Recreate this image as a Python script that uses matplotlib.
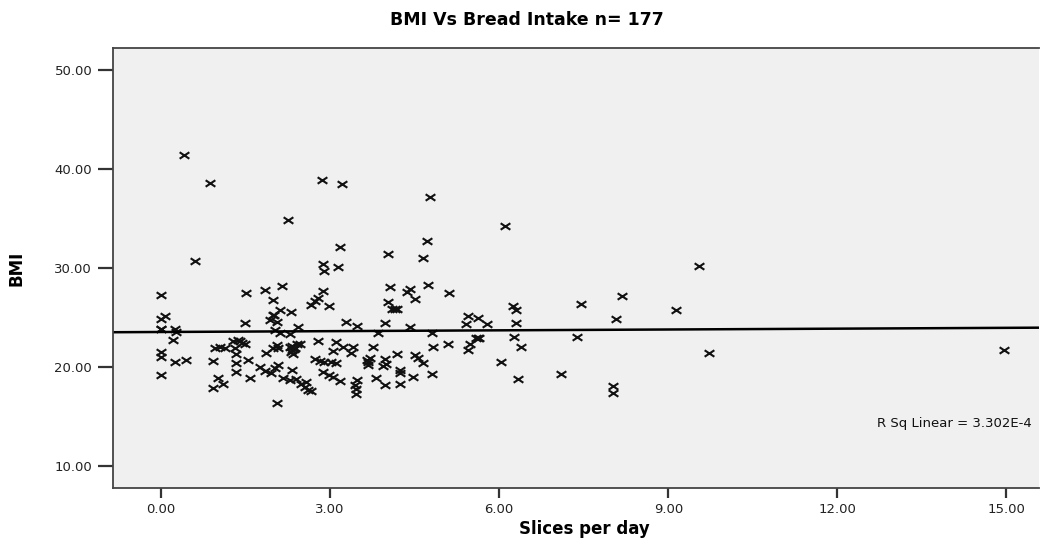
import matplotlib.pyplot as plt
from matplotlib.path import Path
from matplotlib.ticker import FormatStrFormatter

# Slices of bread per day vs BMI
slices = [
    0.40, 0.87, 2.85, 3.21, 2.26, 4.78, 6.10, 3.17, 4.72,
    4.03, 4.64, 2.88, 2.90, 3.14, 4.06, 4.41, 4.37, 4.74, 4.50, 5.11, 4.03,
    4.09, 4.18, 2.87, 2.99, 5.45, 5.62, 5.42, 5.78, 3.28, 3.48, 3.97, 4.42,
    0.60, 0.00, 0.07, 0.00, 0.00, 0.25, 1.50, 1.84, 2.14, 1.99, 1.49, 2.11,
    1.99, 1.93, 2.05, 2.30, 2.67, 2.73, 2.78, 2.43, 2.02,
    0.26, 0.22, 2.11, 2.29, 0.00, 0.00, 0.25, 0.45, 0.00, 0.93, 0.96, 1.05,
    1.13, 1.28, 1.37, 1.43, 1.49, 1.31, 1.34, 1.34, 1.54, 1.34, 1.58, 1.02,
    1.10, 0.93, 1.87, 1.99, 2.05, 2.08, 2.29, 2.32, 2.38, 2.41, 2.35, 2.30,
    2.46, 2.79, 2.73, 2.82, 1.75, 1.84, 1.96, 2.02, 2.08, 2.32, 2.17, 2.29,
    2.40, 2.49, 2.58, 2.55, 2.61, 2.66, 2.05, 2.88,
    3.85, 4.80, 5.59, 5.65, 5.48, 5.45, 5.09, 4.82, 6.04, 3.11, 3.23, 3.41,
    3.05, 3.38, 3.76, 2.90, 3.02, 3.11, 2.99, 3.05, 3.17, 3.65, 3.70, 3.67,
    3.97, 3.94, 4.00, 4.18, 4.50, 4.56, 4.65, 4.24, 4.24, 3.81, 3.97, 4.24,
    4.48, 4.80, 3.47, 3.44, 3.46, 3.46,
    6.25, 6.30, 6.30, 6.27, 6.39, 6.33, 7.10, 7.46, 7.38, 8.02, 8.02, 8.08,
    8.18, 9.14, 9.55, 9.73, 14.96,
    1.40, 2.36, 2.33, 0.00, 4.16, 5.62, 2.00, 3.68,
]
bmi = [
    41.4, 38.55, 38.9, 38.5, 34.85, 37.1, 34.2, 32.1, 32.75,
    31.4, 31.0, 30.4, 29.7, 30.1, 28.1, 27.9, 27.6, 28.3, 26.8, 27.4, 26.5,
    25.8, 25.8, 27.7, 26.15, 25.1, 24.9, 24.3, 24.3, 24.5, 24.15, 24.4, 24.05,
    30.7, 27.2, 25.1, 24.8, 23.8, 23.8, 27.4, 27.8, 28.2, 26.75, 24.4, 25.7,
    25.2, 24.7, 24.5, 25.5, 26.25, 26.6, 26.9, 24.05, 23.7,
    23.5, 22.7, 23.4, 23.3, 21.5, 21.0, 20.5, 20.7, 19.2, 20.6, 21.9, 22.0,
    21.9, 22.6, 22.7, 22.4, 22.3, 21.9, 21.3, 20.35, 20.7, 19.5, 18.9, 18.9,
    18.3, 17.9, 21.4, 21.9, 22.2, 21.9, 22.0, 21.7, 21.9, 22.3, 21.3, 21.45,
    22.3, 22.6, 20.75, 20.6, 20.0, 19.6, 19.35, 19.85, 20.2, 19.7, 18.85, 18.7,
    18.8, 18.3, 18.5, 18.0, 17.65, 17.5, 16.3, 19.5,
    23.4, 23.4, 22.95, 22.95, 22.3, 21.7, 22.3, 22.0, 20.5, 22.5, 22.0, 22.0,
    21.6, 21.4, 22.0, 20.5, 20.45, 20.35, 19.2, 19.0, 18.6, 20.7, 20.85, 20.2,
    20.8, 20.1, 20.25, 21.25, 21.2, 20.9, 20.35, 19.7, 19.35, 18.9, 18.2, 18.3,
    19.0, 19.25, 18.65, 18.2, 17.75, 17.2,
    26.1, 25.75, 24.4, 23.0, 22.0, 18.75, 19.3, 26.35, 23.05, 18.1, 17.3, 24.85,
    27.1, 25.7, 30.2, 21.4, 21.7,
    22.6, 21.8, 22.1, 23.8, 25.8, 22.95, 25.2, 20.5,
]

# fitted line
fit_intercept = 23.51
fit_slope = 0.028
r_sq_text = "R Sq Linear = 3.302E-4"

xticks = [0, 3, 6, 9, 12, 15]
yticks = [10, 20, 30, 40, 50]

plt.rcParams['font.family'] = ['DejaVu Sans']

# the SPSS export is stretched sideways, so the crosses are wider than tall
wide_x = Path([(-1.5, -1), (1.5, 1), (-1.5, 1), (1.5, -1)],
              [Path.MOVETO, Path.LINETO, Path.MOVETO, Path.LINETO])

fig = plt.figure(figsize=(10.4, 5.39), dpi=100)
fig.patch.set_facecolor("white")
ax = fig.add_axes([0.1087, 0.0946, 0.8905, 0.8164])
ax.set_facecolor("#f0f0f0")

ax.plot(slices, bmi, linestyle="none", marker=wide_x, markersize=7,
        markeredgewidth=1.5, color="#111111")

x0, x1 = -0.85, 15.58
ax.plot([x0, x1], [fit_intercept + fit_slope * x0, fit_intercept + fit_slope * x1],
        color="black", lw=1.8)

ax.text(15.44, 14.3, r_sq_text, ha="right", va="center", fontsize=9.5,
        color="#111111")

ax.set_xlim(x0, x1)
ax.set_ylim(7.75, 52.2)
ax.set_xticks(xticks)
ax.set_yticks(yticks)
ax.xaxis.set_major_formatter(FormatStrFormatter("%.2f"))
ax.yaxis.set_major_formatter(FormatStrFormatter("%.2f"))
ax.tick_params(direction="out", width=1.6, color="#333333",
               labelsize=9.5, labelcolor="#222222")
ax.tick_params(axis="y", length=11, pad=4)
ax.tick_params(axis="x", length=7.5, pad=3)

for side in ["left", "bottom", "top"]:
    ax.spines[side].set_color("#444444")
    ax.spines[side].set_linewidth(1.3)
ax.spines["right"].set_visible(False)

ax.set_xlabel("Slices per day", fontsize=12, fontweight="bold")
ax.xaxis.set_label_coords(0.509, -0.072)
ax.set_ylabel("BMI", fontsize=12, fontweight="bold")
ax.yaxis.set_label_coords(-0.094, 0.5)

fig.text(0.507, 0.962, "BMI Vs Bread Intake n= 177", ha="center", va="center",
         fontsize=12.5, fontweight="bold")

fig.savefig("out.png", dpi=100, facecolor="white")
